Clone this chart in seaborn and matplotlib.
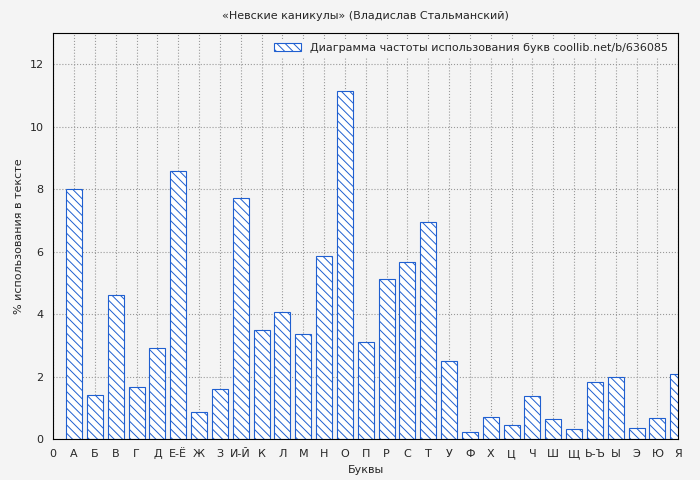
import matplotlib
matplotlib.use("Agg")
import matplotlib.pyplot as plt
import seaborn as sns
import pandas as pd

letters = ["А","Б","В","Г","Д","Е-Ё","Ж","З","И-Й","К","Л","М","Н","О","П","Р","С","Т","У","Ф","Х","Ц","Ч","Ш","Щ","Ь-Ъ","Ы","Э","Ю","Я"]
values = [8.0,1.41,4.61,1.66,2.91,8.58,0.86,1.6,7.71,3.49,4.06,3.36,5.86,11.14,3.1,5.12,5.66,6.94,2.5,0.22,0.7,0.45,1.38,0.64,0.32,1.82,1.98,0.35,0.67,2.08]
positions = list(range(1, len(letters) + 1))

sns.set_style("whitegrid")
plt.rcParams['font.family'] = ['DejaVu Sans']
plt.rcParams['hatch.color'] = '#1f5fd0'
plt.rcParams['hatch.linewidth'] = 0.7

fig = plt.figure(figsize=(7, 4.8), dpi=100, facecolor='#f4f4f4')
ax = fig.add_axes([0.076, 0.085, 0.893, 0.846])
ax.set_facecolor('#f4f4f4')
df = pd.DataFrame({"x": positions, "y": values})
sns.barplot(data=df, x="x", y="y", native_scale=True, width=0.77, ax=ax,
            color='white', edgecolor='#1f5fd0', linewidth=0.8, hatch='\\\\\\\\',
            label='Диаграмма частоты использования букв coollib.net/b/636085')
for p in ax.patches:
    p.set_facecolor('white')
ax.set_xlim(0, 30)
ax.set_ylim(0, 13)
ax.set_xticks([0] + positions)
ax.set_xticklabels(["0"] + letters, fontsize=8)
ax.set_yticks([0, 2, 4, 6, 8, 10, 12])
ax.tick_params(axis='y', labelsize=8)
ax.grid(True, color='#999999', linestyle=':', linewidth=0.8)
ax.set_axisbelow(True)
for s in ax.spines.values():
    s.set_color('black'); s.set_linewidth(0.8)
ax.set_xlabel("Буквы", fontsize=8)
ax.set_ylabel("% использования в тексте", fontsize=8)
ax.set_title("«Невские каникулы» (Владислав Стальманский)", fontsize=8, pad=10)
leg = ax.legend(loc='upper right', fontsize=8, frameon=True, framealpha=1,
                facecolor='#f4f4f4', edgecolor='none', handlelength=2.5)
fig.savefig("out.png", dpi=100, facecolor=fig.get_facecolor())
